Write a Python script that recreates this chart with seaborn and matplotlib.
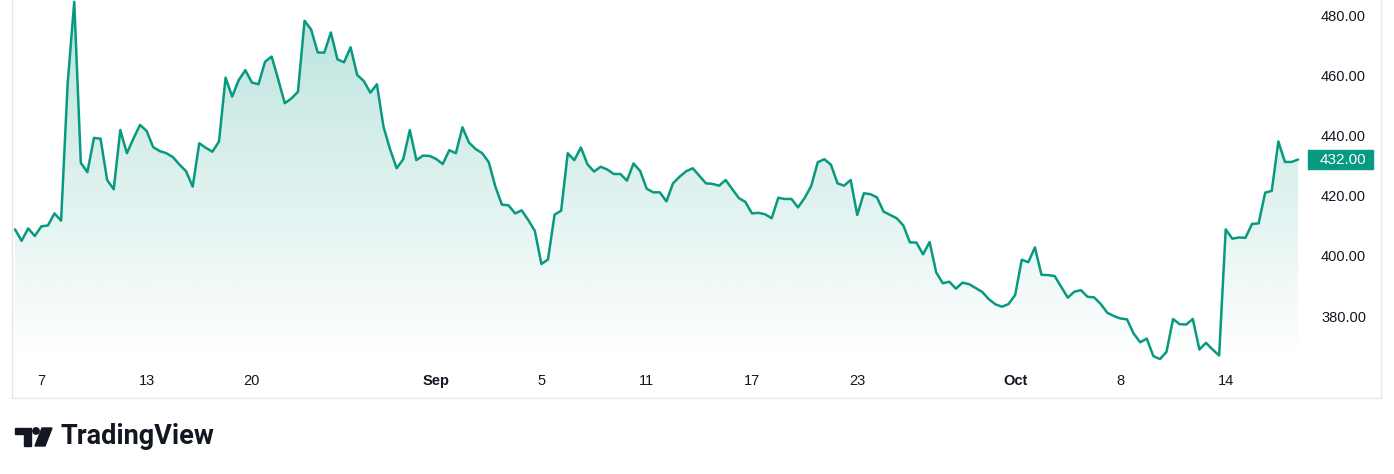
import numpy as np
import pandas as pd
import matplotlib
matplotlib.use("Agg")
import matplotlib.pyplot as plt
import matplotlib.transforms as mtransforms
from matplotlib.colors import to_rgb
from matplotlib.patches import Rectangle, Polygon, Ellipse, PathPatch
import seaborn as sns

# price series (one value per bar)
prices = [
    408.8, 405.0, 409.1, 406.6, 409.8, 410.1, 414.1, 411.7, 457.3, 484.4,
    430.9, 427.8, 439.2, 438.9, 425.2, 422.1, 441.8, 434.1, 439.0, 443.5,
    441.5, 436.1, 434.8, 434.1, 432.8, 430.3, 428.1, 423.0, 437.4, 435.9,
    434.6, 438.0, 459.2, 452.9, 458.4, 461.7, 457.6, 457.0, 464.5, 466.2,
    458.6, 450.7, 452.3, 454.5, 478.1, 475.2, 467.6, 467.5, 474.2, 465.3,
    464.3, 469.3, 460.1, 458.1, 454.2, 457.0, 442.9, 435.4, 429.1, 432.1,
    441.8, 431.8, 433.3, 433.2, 432.2, 430.5, 435.1, 434.1, 442.7, 437.6,
    435.5, 434.1, 431.1, 423.0, 417.0, 416.8, 414.1, 415.1, 411.9, 408.3,
    397.3, 398.8, 413.7, 415.0, 434.1, 431.8, 436.0, 430.4, 428.0, 429.6,
    428.7, 427.2, 427.2, 425.0, 430.7, 428.2, 422.3, 421.1, 421.1, 418.1,
    424.1, 426.3, 428.1, 429.1, 426.6, 424.1, 423.9, 423.3, 425.2, 422.2,
    419.2, 417.9, 414.1, 414.3, 413.8, 412.5, 419.3, 418.9, 418.9, 416.1,
    419.2, 423.2, 431.1, 432.1, 430.3, 424.1, 423.3, 425.2, 413.6, 420.8,
    420.5, 419.4, 414.7, 413.6, 412.5, 410.1, 404.5, 404.4, 400.5, 404.6,
    394.5, 390.9, 391.4, 389.1, 391.1, 390.6, 389.3, 388.0, 385.6, 383.9,
    383.1, 384.0, 387.0, 398.7, 397.9, 402.8, 393.7, 393.6, 393.3, 389.7,
    386.1, 388.1, 388.6, 386.4, 386.2, 384.0, 381.1, 380.0, 379.2, 378.9,
    374.2, 371.3, 372.5, 366.7, 365.7, 368.1, 379.0, 377.3, 377.2, 379.0,
    368.9, 371.1, 368.9, 366.9, 408.8, 405.7, 406.1, 406.0, 410.6, 410.8,
    421.0, 421.6, 438.0, 431.2, 431.2, 432.0,
]
tick_bars = [4, 20, 36, 64, 80, 96, 112, 128, 152, 168, 184]
tick_labels = ["7", "13", "20", "Sep", "5", "11", "17", "23", "Oct", "8", "14"]
month_labels = ["Sep", "Oct"]
price_ticks = [380, 400, 420, 440, 460, 480]

GREEN = "#089981"
TEXT = "#131722"
W, H = 1394, 474

sns.set_style("white")
plt.rcParams["font.family"] = ["Liberation Sans", "DejaVu Sans"]

fig = plt.figure(figsize=(W / 100, H / 100), dpi=100)


def px_rect(x0, y0, w, h):
    return [x0 / W, 1 - (y0 + h) / H, w / W, h / H]


def px_pt(x, y):
    return (x / W, 1 - y / H)


ax = fig.add_axes(px_rect(12, 0, 1369, 360))

df = pd.DataFrame({"bar": np.arange(len(prices)), "price": prices})
y_lo, y_hi = 365.4, 485.0

# gradient area under the line
area = ax.fill_between(df["bar"], df["price"], y_lo, color="none", lw=0)
clip = PathPatch(area.get_paths()[0], transform=ax.transData, fc="none", ec="none")
ax.add_patch(clip)
grad = np.zeros((256, 1, 4))
grad[..., :3] = to_rgb(GREEN)
grad[:, 0, 3] = np.linspace(0.28, 0.0, 256)
img = ax.imshow(grad, aspect="auto", origin="upper",
                extent=[0, len(prices) - 1, y_lo, y_hi], zorder=1)
img.set_clip_path(clip)

sns.lineplot(data=df, x="bar", y="price", color=GREEN, lw=1.8, ax=ax, zorder=3)

ax.set_xlim(-0.46, 207.6)
ax.set_ylim(y_lo, y_hi)
ax.set_xlabel("")
ax.set_ylabel("")
for s in ax.spines.values():
    s.set_visible(False)

ax.set_xticks(tick_bars)
ax.set_xticklabels(tick_labels)
ax.tick_params(axis="x", length=0, pad=10, labelsize=10.5, labelcolor=TEXT)
for lbl in ax.get_xticklabels():
    if lbl.get_text() in month_labels:
        lbl.set_fontweight("bold")

ax.yaxis.tick_right()
ax.set_yticks(price_ticks)
ax.set_yticklabels([f"{v:.2f}" for v in price_ticks])
ax.tick_params(axis="y", length=0, pad=-10.8, labelsize=10.5, labelcolor=TEXT)
for lbl in ax.get_yticklabels():
    lbl.set_horizontalalignment("right")

# last price tag
last = prices[-1]
trans = mtransforms.blended_transform_factory(ax.transAxes, ax.transData)
ax.add_patch(Rectangle((0.9467, last - 3.3), 0.0475, 6.6, transform=trans,
                       color=GREEN, clip_on=False, zorder=5))
ax.text(0.989, last, f"{last:.2f}", transform=trans, ha="right", va="center",
        color="white", fontsize=11, zorder=6)

# outer frame
fig.add_artist(Rectangle((12 / W, 1 - 398 / H), 1369 / W, 398 / H + 0.05,
                         transform=fig.transFigure, fill=False, ec="#e6e6e6", lw=1))

# TradingView logo
fig.add_artist(Polygon([px_pt(*p) for p in [(15, 428), (31, 428), (31, 446), (24, 446), (24, 434), (15, 434)]],
                       closed=True, transform=fig.transFigure, color=TEXT))
fig.add_artist(Ellipse(px_pt(36, 431), 6.4 / W, 6.4 / H, transform=fig.transFigure, color=TEXT))
fig.add_artist(Polygon([px_pt(*p) for p in [(42, 428), (52, 428), (45, 446), (35, 446)]],
                       closed=True, transform=fig.transFigure, color=TEXT))
fig.text(60 / W, 1 - 437 / H, "TradingView", fontsize=19.5, fontweight="bold",
         family=["Roboto", "DejaVu Sans"], va="center", ha="left", color=TEXT)

fig.savefig("out.png", dpi=100)
